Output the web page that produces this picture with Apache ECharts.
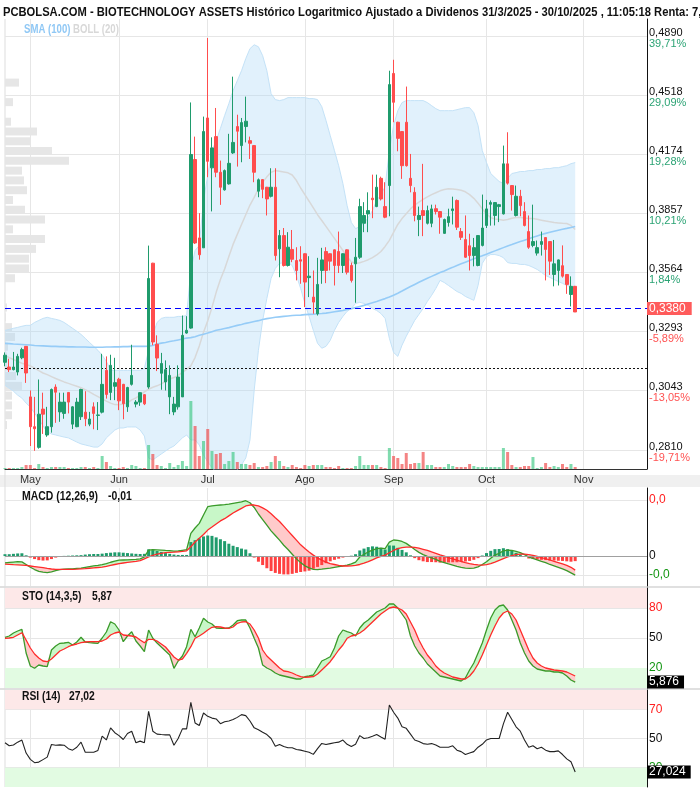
<!DOCTYPE html>
<html>
<head>
<meta charset="utf-8">
<script src="https://cdn.jsdelivr.net/npm/echarts@6/dist/echarts.min.js"></script>
<style>
  html, body { margin: 0; padding: 0; background: #fff; }
  #chart { width: 700px; height: 792px; }
</style>
</head>
<body>
<div id="chart"></div>
<script>
// candles 23/4/2025 .. 30/10/2025 (precio, escala log)
var opens = [
  .3160,.3140,.3129,.3119,.3179,.3228,.3017,.2899,.2820,.2968,
  .2867,.2899,.3057,.2957,.2951,.3035,.2909,.2899,.2938,.2956,
  .2909,.2977,.2943,.2956,.3126,.3035,.3060,.3089,.3068,.2977,
  .3068,.2988,.2996,.3026,.3057,.3608,.3237,.3114,.3078,.3017,
  .2957,.2977,.3017,.3286,.3308,.4145,.3732,.3683,.4382,.4099,
  .4274,.4075,.3980,.4012,.4182,.4332,.4223,.4332,.4251,.4223,
  .3973,.4035,.3994,.3946,.3994,.3678,.3744,.3597,.3675,.3621,
  .3625,.3654,.3539,.3448,.3372,.3573,.3665,.3654,.3673,.3665,
  .3597,.3673,.3597,.3605,.3637,.3806,.3854,.3936,.3892,.4042,
  .3892,.4003,.4651,.4357,.4303,.4357,.4042,.3967,.3825,.3871,
  .3806,.3806,.3881,.3866,.3755,.3810,.3871,.3924,.3764,.3724,
  .3693,.3645,.3597,.3695,.3795,.3904,.3846,.3892,.3854,.4121,
  .4003,.3846,.3946,.3866,.3764,.3695,.3657,.3700,.3734,.3714,
  .3554,.3573,.3596,.3554,.3460,.3498
];
var highs = [
  .3202,.3175,.3204,.3196,.3222,.3228,.3043,.3017,.3088,.3034,
  .2977,.3051,.3068,.3034,.3034,.3035,.2980,.3013,.3050,.3040,
  .2957,.2995,.2996,.3196,.3185,.3192,.3179,.3095,.3070,.3058,
  .3235,.3004,.3036,.3028,.3694,.3610,.3276,.3200,.3168,.3147,
  .3017,.3147,.3364,.3361,.4474,.4274,.3858,.4390,.4877,.4270,
  .4441,.4139,.4090,.4290,.4631,.4401,.4382,.4509,.4274,.4225,
  .4041,.4037,.3996,.4097,.4097,.3772,.3782,.3761,.3772,.3686,
  .3691,.3656,.3642,.3573,.3634,.3683,.3686,.3656,.3675,.3764,
  .3656,.3675,.3611,.3732,.3933,.3915,.3967,.4062,.4062,.4051,
  .4021,.4668,.4737,.4360,.4306,.4570,.4176,.3994,.3892,.4121,
  .3897,.3902,.3902,.3869,.3830,.3881,.3944,.3929,.3782,.3846,
  .3753,.3732,.3746,.3955,.3927,.3924,.3915,.3906,.4223,.4299,
  .4005,.4003,.3980,.3915,.3846,.3902,.3719,.3764,.3736,.3716,
  .3722,.3626,.3695,.3556,.3545,.3500
];
var lows = [
  .3143,.3119,.3126,.3105,.3173,.3074,.2825,.2807,.2815,.2871,
  .2860,.2876,.2914,.2918,.2930,.2951,.2890,.2897,.2925,.2901,
  .2901,.2889,.2886,.2951,.3010,.3004,.3004,.2964,.2928,.2957,
  .3063,.2975,.2981,.2984,.3050,.3233,.3123,.3046,.3043,.2948,
  .2944,.2966,.3017,.3283,.3305,.3702,.3625,.3683,.4048,.3867,
  .4048,.3901,.3976,.4008,.4176,.4106,.4130,.4241,.4148,.4021,
  .3941,.3936,.3846,.3940,.3621,.3541,.3592,.3592,.3613,.3526,
  .3510,.3402,.3448,.3372,.3364,.3510,.3513,.3573,.3502,.3561,
  .3561,.3554,.3516,.3422,.3629,.3761,.3761,.3832,.3889,.3924,
  .3832,.3842,.4357,.4191,.4039,.4106,.3967,.3816,.3741,.3741,
  .3800,.3786,.3851,.3753,.3753,.3789,.3800,.3772,.3722,.3634,
  .3573,.3593,.3593,.3690,.3782,.3794,.3795,.3812,.3851,.4008,
  .3871,.3841,.3842,.3790,.3678,.3686,.3645,.3645,.3526,.3552,
  .3498,.3502,.3539,.3463,.3405,.3380
];
var closes = [
  .3190,.3129,.3140,.3185,.3214,.3115,.2899,.2891,.2948,.2948,
  .2899,.3047,.3036,.2996,.2996,.2996,.2977,.2996,.3047,.2930,
  .2929,.2951,.2945,.3068,.3027,.3147,.3075,.3001,.2990,.3055,
  .3105,.2996,.3034,.2989,.3535,.3247,.3178,.3155,.3129,.3105,
  .2988,.3098,.3276,.3298,.4173,.3707,.3649,.4303,.4135,.4210,
  .4075,.3994,.4084,.4124,.4241,.4305,.4355,.4363,.4236,.4075,
  .4034,.3983,.3932,.3994,.3645,.3744,.3597,.3686,.3627,.3573,
  .3618,.3518,.3546,.3425,.3507,.3624,.3573,.3618,.3597,.3597,
  .3654,.3565,.3526,.3637,.3892,.3846,.3871,.3928,.3994,.3932,
  .3837,.4582,.4475,.4264,.4111,.4111,.4003,.3846,.3846,.3846,
  .3871,.3880,.3866,.3837,.3825,.3840,.3880,.3786,.3735,.3637,
  .3645,.3684,.3744,.3782,.3880,.3913,.3913,.3902,.4121,.4016,
  .3955,.3946,.3897,.3795,.3686,.3714,.3684,.3714,.3675,.3618,
  .3605,.3624,.3546,.3507,.3498,.3380
];
// volumen (miles)
var volumes = [
  1,1,1,1,2,4,4,1,5,2,
  1,2,2,2,2,1,1,1,2,2,
  1,2,1,13,7,3,1,1,2,1,
  4,3,1,1,24,15,4,3,1,6,
  2,4,8,3,68,43,13,28,40,18,
  15,16,5,8,17,7,5,5,4,6,
  2,2,3,7,13,8,3,2,4,2,
  1,4,3,4,4,4,2,2,1,3,
  1,1,1,3,13,4,4,4,4,2,
  1,21,13,11,5,16,5,6,6,17,
  4,4,2,2,2,5,3,2,2,2,
  5,3,2,2,2,2,2,2,21,17,
  4,2,2,3,3,12,1,2,6,2,
  3,2,5,2,5,2
];
var sma100 = [
  .3241,.3240,.3238,.3237,.3236,.3235,.3234,.3232,.3231,.3230,
  .3229,.3228,.3228,.3227,.3227,.3226,.3226,.3225,.3225,.3225,
  .3224,.3224,.3224,.3224,.3225,.3225,.3226,.3226,.3227,.3227,
  .3228,.3228,.3228,.3228,.3229,.3232,.3238,.3242,.3245,.3249,
  .3252,.3256,.3260,.3264,.3266,.3270,.3276,.3281,.3286,.3292,
  .3298,.3302,.3306,.3310,.3315,.3320,.3324,.3329,.3333,.3337,
  .3341,.3346,.3350,.3353,.3356,.3358,.3360,.3362,.3364,.3365,
  .3366,.3368,.3369,.3370,.3372,.3373,.3375,.3378,.3381,.3384,
  .3387,.3391,.3395,.3400,.3405,.3410,.3416,.3422,.3428,.3435,
  .3441,.3448,.3457,.3466,.3476,.3487,.3497,.3507,.3517,.3527,
  .3536,.3545,.3554,.3563,.3571,.3580,.3588,.3597,.3605,.3613,
  .3621,.3629,.3637,.3644,.3652,.3660,.3668,.3676,.3684,.3692,
  .3699,.3707,.3714,.3721,.3728,.3735,.3742,.3749,.3755,.3761,
  .3766,.3771,.3776,.3780,.3785,.3790
];
var bollMid = [
  .3189,.3180,.3172,.3164,.3156,.3150,.3145,.3135,.3125,.3115,
  .3108,.3100,.3092,.3085,.3078,.3072,.3066,.3060,.3054,.3046,
  .3037,.3027,.3018,.3009,.3000,.2992,.2986,.2985,.2988,.2993,
  .3005,.3013,.3024,.3037,.3048,.3056,.3062,.3070,.3080,.3090,
  .3096,.3105,.3118,.3130,.3145,.3180,.3230,.3290,.3340,.3400,
  .3470,.3530,.3580,.3640,.3700,.3750,.3800,.3850,.3900,.3940,
  .3985,.4020,.4050,.4075,.4084,.4080,.4076,.4072,.4060,.4030,
  .3990,.3955,.3920,.3885,.3850,.3820,.3790,.3760,.3730,.3700,
  .3670,.3640,.3615,.3607,.3610,.3617,.3625,.3635,.3648,.3665,
  .3690,.3720,.3760,.3800,.3830,.3855,.3880,.3900,.3915,.3930,
  .3943,.3955,.3965,.3975,.3982,.3986,.3985,.3982,.3978,.3970,
  .3955,.3935,.3910,.3880,.3855,.3835,.3828,.3825,.3822,.3825,
  .3832,.3836,.3835,.3833,.3830,.3830,.3826,.3822,.3818,.3814,
  .3810,.3808,.3806,.3805,.3795,.3774
];
var bollUp = [
  .3298,.3302,.3307,.3311,.3316,.3320,.3320,.3333,.3342,.3351,
  .3356,.3351,.3347,.3342,.3333,.3320,.3307,.3294,.3280,.3263,
  .3245,.3228,.3211,.3190,.3164,.3126,.3126,.3126,.3126,.3126,
  .3126,.3126,.3126,.3134,.3211,.3276,.3333,.3351,.3356,.3356,
  .3356,.3360,.3360,.3364,.3573,.3670,.3695,.3924,.4057,.4195,
  .4251,.4321,.4396,.4467,.4545,.4606,.4668,.4744,.4808,.4833,
  .4820,.4763,.4668,.4527,.4491,.4485,.4491,.4503,.4503,.4503,
  .4503,.4503,.4497,.4497,.4491,.4449,.4367,.4280,.4195,.4111,
  .4014,.3897,.3810,.3779,.3789,.3805,.3835,.3871,.3924,.3955,
  .3997,.4195,.4338,.4425,.4473,.4485,.4485,.4485,.4485,.4485,
  .4473,.4455,.4437,.4425,.4425,.4425,.4425,.4431,.4437,.4443,
  .4443,.4413,.4338,.4195,.4128,.4068,.4046,.4025,.4014,.4041,
  .4068,.4073,.4079,.4079,.4084,.4084,.4090,.4090,.4095,.4095,
  .4100,.4100,.4106,.4111,.4122,.4128
];
var bollLow = [
  .3064,.3052,.3040,.3024,.3012,.2992,.2976,.2952,.2929,.2902,
  .2878,.2871,.2867,.2863,.2859,.2856,.2848,.2840,.2833,.2829,
  .2825,.2821,.2821,.2833,.2856,.2871,.2886,.2894,.2894,.2898,
  .2898,.2898,.2886,.2863,.2780,.2773,.2784,.2795,.2806,.2817,
  .2825,.2840,.2856,.2867,.2848,.2848,.2829,.2791,.2766,.2744,
  .2729,.2714,.2707,.2707,.2714,.2736,.2755,.2780,.2848,.3044,
  .3211,.3342,.3442,.3535,.3583,.3607,.3611,.3611,.3597,.3549,
  .3488,.3419,.3360,.3298,.3241,.3220,.3228,.3254,.3298,.3333,
  .3360,.3383,.3396,.3419,.3424,.3419,.3410,.3396,.3387,.3373,
  .3351,.3263,.3202,.3185,.3233,.3272,.3307,.3342,.3369,.3396,
  .3428,.3456,.3488,.3526,.3516,.3502,.3488,.3474,.3465,.3451,
  .3442,.3433,.3502,.3607,.3640,.3650,.3650,.3645,.3635,.3611,
  .3607,.3607,.3602,.3602,.3597,.3588,.3578,.3564,.3549,.3540,
  .3530,.3521,.3512,.3502,.3498,.3493
];
var macd = [
  -.0036,-.0034,-.0032,-.0030,-.0031,-.0045,-.0060,-.0072,-.0082,-.0086,
  -.0089,-.0084,-.0078,-.0073,-.0070,-.0069,-.0068,-.0066,-.0064,-.0060,
  -.0056,-.0052,-.0050,-.0046,-.0040,-.0033,-.0027,-.0022,-.0021,-.0020,
  -.0019,-.0018,-.0015,-.0005,.0032,.0034,.0033,.0032,.0030,.0029,
  .0027,.0028,.0031,.0034,.0121,.0150,.0175,.0220,.0264,.0268,
  .0271,.0273,.0275,.0278,.0282,.0286,.0290,.0296,.0285,.0260,
  .0225,.0195,.0165,.0135,.0110,.0085,.0058,.0035,.0010,-.0015,
  -.0035,-.0052,-.0063,-.0071,-.0072,-.0070,-.0067,-.0064,-.0060,-.0056,
  -.0053,-.0048,-.0042,-.0032,-.0005,.0010,.0022,.0032,.0040,.0042,
  .0040,.0075,.0086,.0084,.0078,.0068,.0052,.0035,.0020,.0008,
  -.0002,-.0010,-.0018,-.0028,-.0035,-.0042,-.0048,-.0055,-.0060,-.0064,
  -.0066,-.0064,-.0058,-.0045,-.0030,-.0012,.0005,.0015,.0028,.0032,
  .0030,.0025,.0018,.0008,-.0005,-.0012,-.0020,-.0028,-.0035,-.0045,
  -.0052,-.0060,-.0068,-.0078,-.0090,-.0102
];
var macdSignal = [
  -.0043,-.0044,-.0046,-.0047,-.0048,-.0050,-.0053,-.0056,-.0059,-.0062,
  -.0066,-.0069,-.0071,-.0071,-.0071,-.0071,-.0071,-.0070,-.0068,-.0067,
  -.0065,-.0063,-.0061,-.0059,-.0055,-.0050,-.0045,-.0040,-.0037,-.0034,
  -.0031,-.0028,-.0024,-.0015,-.0004,.0004,.0010,.0014,.0018,.0020,
  .0021,.0023,.0025,.0028,.0050,.0075,.0095,.0115,.0139,.0155,
  .0172,.0188,.0200,.0215,.0230,.0243,.0255,.0268,.0273,.0273,
  .0268,.0258,.0245,.0226,.0205,.0185,.0160,.0135,.0110,.0085,
  .0060,.0040,.0022,.0005,-.0010,-.0022,-.0032,-.0040,-.0045,-.0050,
  -.0053,-.0053,-.0052,-.0050,-.0045,-.0038,-.0030,-.0020,-.0010,-.0002,
  .0005,.0018,.0030,.0040,.0045,.0048,.0048,.0046,.0042,.0036,
  .0030,.0022,.0015,.0007,.0000,-.0008,-.0015,-.0022,-.0029,-.0035,
  -.0040,-.0044,-.0047,-.0048,-.0046,-.0040,-.0032,-.0023,-.0014,-.0005,
  .0003,.0008,.0010,.0010,.0008,.0004,-.0002,-.0008,-.0014,-.0021,
  -.0028,-.0035,-.0042,-.0050,-.0060,-.0075
];
var macdHist = [
  .0010,.0010,.0012,.0014,.0015,.0004,-.0008,-.0016,-.0022,-.0024,
  -.0023,-.0016,-.0008,-.0003,.0001,.0002,.0003,.0004,.0005,.0008,
  .0010,.0011,.0011,.0013,.0016,.0018,.0020,.0020,.0018,.0016,
  .0014,.0012,.0011,.0012,.0036,.0032,.0027,.0022,.0016,.0012,
  .0008,.0006,.0006,.0006,.0075,.0085,.0095,.0105,.0110,.0108,
  .0100,.0090,.0080,.0066,.0055,.0048,.0040,.0035,.0015,-.0008,
  -.0030,-.0048,-.0065,-.0080,-.0090,-.0095,-.0098,-.0098,-.0095,-.0090,
  -.0085,-.0082,-.0078,-.0068,-.0058,-.0048,-.0038,-.0028,-.0020,-.0014,
  -.0008,-.0004,.0002,.0010,.0030,.0040,.0048,.0052,.0050,.0044,
  .0035,.0057,.0056,.0044,.0033,.0020,.0004,-.0011,-.0022,-.0028,
  -.0032,-.0032,-.0033,-.0035,-.0035,-.0034,-.0033,-.0033,-.0031,-.0029,
  -.0026,-.0020,-.0011,.0003,.0016,.0028,.0037,.0038,.0042,.0037,
  .0027,.0017,.0008,-.0002,-.0013,-.0016,-.0018,-.0020,-.0021,-.0024,
  -.0024,-.0025,-.0026,-.0028,-.0030,-.0027
];
var stoK = [
  50.7,52,55,57,58.7,35,22,19.7,23,22,
  21.3,38,42,44.7,45,45.7,43,46,50.7,46,
  45.3,45,44.7,50,56,66.3,64,58,46.3,52,
  56.3,47,42,36.3,58,49.7,45,41,37,33,
  19.7,27,32,41.3,58.7,51.3,60,69.7,66,64,
  60,59.7,59.7,60,63,67.3,68,68,60,49.7,
  40,23,20,18,15,13,12,11,10,9,
  9,11.3,12,13,20,27,29,31.3,40,52,
  58,56.3,55,52,60,65,68,72,76,78,
  80,84,84,80,74,68,52,42,35,30,
  24,20,16,12,11,10,9,8,7,10,
  18,25,35,45,58,70,78,82,83,78,
  68,58,45,35,27,22,19,18,17,17,
  16,16,15,12,8,5.876
];
var stoD = [
  49.7,50,50.7,53,55.3,48,40,34,30,27,
  26.3,29,33,37,39,41.3,43,44,45.3,46,
  46.3,46.3,46.3,47,49,53,55,56,53,52.5,
  52,51,48,45.3,48.7,48.7,47,44,41,36,
  31,28,29,34.7,41.3,49.7,52,54.7,58,60.7,
  61.3,61,60,59.7,61,64.7,66,66.3,64,58,
  50,38,32,28,24,20,17,16.3,15,13,
  11.3,10.7,11,11.3,14,18,22,26.3,32,38,
  43,49.7,52,53,55,58,62,66,70,74,
  77,80,81,80,78,74,66,58,48,40,
  33,28,22,18,15,13,11,10,9,9,
  12,17,24,33,43,53,62,70,75,77,
  74,68,58,48,38,30,25,22,20,19,
  18,17.5,17,16,14,12
];
var rsi = [
  47.1,45,45.5,47.5,48.9,40,35.7,33.4,33.8,35.5,
  37.2,45.9,45.4,45.6,45.4,43,42,44,47.5,40.6,
  40.6,40.6,41.8,51.6,49,57.3,54,52,49.3,53.4,
  55,47.1,48.2,47.1,68.6,55,53,52.7,52.5,52.5,
  45.4,50,56.6,56.6,74.8,60.7,58.9,67.5,65.2,64,
  63.4,60.2,61.5,62,63,64.5,66.4,65.7,62,57.3,
  56,54.3,52.7,50,44.7,45.9,44.5,43.7,43.7,42.5,
  42,41.3,40.6,39.1,43,46.6,45.9,46.5,47.1,47.5,
  48.9,46,44.5,46,52,50,50.5,51.5,52.7,51,
  49.5,73,68,64,58,57,53,49,48,46.5,
  46,46.5,45.5,44,44,44,45,42,41,39,
  40,41,44,46,49,50,50,50,60,68,
  63,58,55,49,44,45,43,44,42,41,
  41,41.5,39,36,34,27.024
];
// perfil de volumen por tramo de precio (de arriba abajo)
var profile = [
  0,0,0,0,0,0,14,0,8,0,
  6,32,25,47,64,17,19,22,8,20,
  40,8,40,31,24,24,10,0,0,2,
  1,7,10,3,2,2,11,17,7,7,
  7,2,0,0,0,0
];
var priceTicks = [0.2810, 0.3043, 0.3293, 0.3564, 0.3857, 0.4174, 0.4518, 0.4890];
var pctTicks = ['-19,71%', '-13,05%', '-5,89%', '1,84%', '10,21%', '19,28%', '29,09%', '39,71%'];
var startPrice = 0.315;
var monthNames = ['Ene', 'Feb', 'Mar', 'Abr', 'May', 'Jun', 'Jul', 'Ago', 'Sep', 'Oct', 'Nov', 'Dic'];
var holidays = ['2025-05-01'];

// dias habiles, con hueco a la derecha hasta 24/11
var dates = [];
for (var d = new Date(Date.UTC(2025, 3, 23)); d <= new Date(Date.UTC(2025, 10, 24)); d.setUTCDate(d.getUTCDate() + 1)) {
  var wd = d.getUTCDay();
  var s = d.toISOString().slice(0, 10);
  if (wd === 0 || wd === 6 || holidays.indexOf(s) >= 0) continue;
  dates.push(s);
}

var FONT = "'Liberation Sans', Arial, sans-serif";
var UP = '#1f9b6c', DOWN = '#ff4d4d';
var lg = Math.log;
function fmt(v, n) { return v.toFixed(n).replace('.', ','); }
function trunc(v, n) { var p = Math.pow(10, n); return fmt((v < 0 ? Math.ceil(v * p) : Math.floor(v * p)) / p, n); }
function isMonthStart(i) { return i > 0 && dates[i].slice(5, 7) !== dates[i - 1].slice(5, 7); }

// escala log: 0,2810 en y=450 y 0,4890 en y=36, rejilla de 450 px
var lnPerPx = (lg(0.4890) - lg(0.2810)) / 414;
var yMin = lg(0.2810) - 19 * lnPerPx;
var yMax = lg(0.4890) + 17 * lnPerPx;
var tickLn = priceTicks.map(lg);

var candleData = opens.map(function (o, i) { return [lg(o), lg(closes[i]), lg(lows[i]), lg(highs[i])]; });
var volData = volumes.map(function (v, i) {
  return { value: v, itemStyle: { color: closes[i] >= opens[i] ? 'rgba(60,200,130,0.65)' : 'rgba(240,80,80,0.7)' } };
});

function xCat(gi, labels) {
  return {
    type: 'category', gridIndex: gi, data: dates, boundaryGap: false,
    axisLine: { show: gi === 0, lineStyle: { color: '#333' } },
    axisTick: { show: false },
    axisLabel: {
      show: labels, interval: function (i) { return isMonthStart(i); },
      formatter: function (v) { return monthNames[+v.slice(5, 7) - 1]; },
      color: '#333', fontSize: 11, fontFamily: FONT, margin: 5
    },
    splitLine: { show: true, interval: function (i) { return isMonthStart(i); }, lineStyle: { color: '#e6e6e6' } }
  };
}

function fillBetween(key, a, b, xi, yi, upCol, dnCol) {
  var base = { type: 'line', stack: key, stackStrategy: 'all', symbol: 'none', silent: true, xAxisIndex: xi, yAxisIndex: yi, lineStyle: { opacity: 0 }, z: 2 };
  return [
    Object.assign({}, base, { data: a.map(function (v, i) { return Math.min(v, b[i]); }) }),
    Object.assign({}, base, { data: a.map(function (v, i) { return Math.max(v - b[i], 0); }), areaStyle: { color: upCol, opacity: 1 } }),
    Object.assign({}, base, { data: a.map(function (v, i) { return Math.max(b[i] - v, 0); }), areaStyle: { color: dnCol, opacity: 1 } })
  ];
}

function rightAxis(gi, min, max, custom, fmtFn, rich, pad) {
  return {
    type: 'value', gridIndex: gi, position: 'right', min: min, max: max,
    axisLine: { show: true, lineStyle: { color: '#111' } },
    axisTick: { show: false, customValues: custom },
    axisLabel: { customValues: custom, formatter: fmtFn, rich: rich, margin: 2, fontFamily: FONT, padding: pad || 0 },
    splitLine: { show: true, lineStyle: { color: '#e6e6e6' } }
  };
}

var labRich = {
  p: { color: '#111', fontSize: 11, lineHeight: 11, fontFamily: FONT },
  u: { color: '#2ba374', fontSize: 11, lineHeight: 11, fontFamily: FONT },
  n: { color: '#ff5252', fontSize: 11, lineHeight: 11, fontFamily: FONT }
};
var indRich = {
  r: { color: '#ff2020', fontSize: 12, fontFamily: FONT },
  k: { color: '#111', fontSize: 12, fontFamily: FONT },
  g: { color: '#129612', fontSize: 12, fontFamily: FONT }
};

function priceLabel(v) {
  var best = 0;
  for (var i = 1; i < tickLn.length; i++) if (Math.abs(tickLn[i] - v) < Math.abs(tickLn[best] - v)) best = i;
  var pc = pctTicks[best];
  return '{p|' + fmt(priceTicks[best], 4) + '}\n{' + (pc.charAt(0) === '-' ? 'n' : 'u') + '|' + pc + '}';
}

function valueBox(v, txt, bg) {
  return { silent: true, symbol: ['none', 'none'], data: [{ yAxis: v }],
    lineStyle: { color: 'rgba(0,0,0,0)', width: 0 },
    label: { show: true, position: 'end', distance: 0, formatter: txt, color: '#fff', backgroundColor: bg,
      padding: [1, 5, 0, 2], fontSize: 12, fontFamily: FONT } };
}

function headText(x, y, txt, fill, sx) {
  return { type: 'text', x: x, y: y, scaleX: sx, z: 10,
    style: { text: txt, font: 'bold 12px ' + FONT, fill: fill, verticalAlign: 'top' } };
}

var last = closes.length - 1;

var option = {
  animation: false,
  backgroundColor: '#fff',
  grid: [
    { left: 5, width: 642, top: 19, height: 450 },
    { left: 5, width: 642, top: 488, height: 98 },
    { left: 5, width: 642, top: 588, height: 100 },
    { left: 5, width: 642, top: 690, height: 97 },
    { left: 5, width: 642, top: 19, height: 450 }
  ],
  xAxis: [
    xCat(0, true), xCat(1, false), xCat(2, false), xCat(3, false),
    { type: 'value', gridIndex: 4, min: 0, max: 642, show: false }
  ],
  yAxis: [
    rightAxis(0, yMin, yMax, tickLn, priceLabel, labRich, [4, 0, 0, 0]),
    { type: 'value', gridIndex: 0, min: 0, max: 450, show: false },
    rightAxis(1, -0.016, 0.0364, [-0.01, 0, 0.03], function (v) {
      return v > 0 ? '{r|0,0}' : (v < 0 ? '{g|-0,0}' : '{k|0}');
    }, indRich),
    rightAxis(2, 0, 100, [20, 50, 80], function (v) {
      return v > 50 ? '{r|' + v + '}' : (v < 50 ? '{g|' + v + '}' : '{k|' + v + '}');
    }, indRich),
    rightAxis(3, 16.7, 83.3, [30, 50, 70], function (v) {
      return v > 50 ? '{r|' + v + '}' : (v < 50 ? '{g|' + v + '}' : '{k|' + v + '}');
    }, indRich),
    { type: 'category', gridIndex: 4, inverse: true, data: profile.map(function (v, i) { return i; }), show: false }
  ],
  series: [
    // perfil de volumen
    { type: 'bar', xAxisIndex: 4, yAxisIndex: 5, data: profile, barWidth: 8, itemStyle: { color: '#e6e6e6' }, silent: true, z: 1 },
    // bandas de Bollinger
    { type: 'line', xAxisIndex: 0, yAxisIndex: 0, stack: 'boll', stackStrategy: 'all', symbol: 'none', silent: true, z: 2,
      data: bollLow.map(lg), lineStyle: { color: '#c4e2f7', width: 1 } },
    { type: 'line', xAxisIndex: 0, yAxisIndex: 0, stack: 'boll', stackStrategy: 'all', symbol: 'none', silent: true, z: 2,
      data: bollUp.map(function (u, i) { return lg(u) - lg(bollLow[i]); }),
      lineStyle: { color: '#c4e2f7', width: 1 }, areaStyle: { color: 'rgba(170,214,246,0.35)', opacity: 1 } },
    { type: 'line', xAxisIndex: 0, yAxisIndex: 0, data: bollMid.map(lg), symbol: 'none', silent: true, z: 3,
      lineStyle: { color: '#d8d8d8', width: 1.5 } },
    { type: 'line', xAxisIndex: 0, yAxisIndex: 0, data: sma100.map(lg), symbol: 'none', silent: true, z: 3,
      lineStyle: { color: '#96ccf7', width: 1.6 } },
    // volumen
    { type: 'bar', xAxisIndex: 0, yAxisIndex: 1, data: volData, barWidth: 3, silent: true, z: 3 },
    // velas
    { type: 'candlestick', xAxisIndex: 0, yAxisIndex: 0, data: candleData, barWidth: 3, z: 5,
      itemStyle: { color: UP, color0: DOWN, borderColor: UP, borderColor0: DOWN, borderWidth: 1 },
      markLine: {
        silent: true, symbol: ['none', 'none'], animation: false,
        data: [
          { yAxis: lg(closes[last]), lineStyle: { color: '#0000ff', type: [6, 4], width: 1.2 },
            label: { show: true, position: 'end', distance: 0, formatter: fmt(closes[last], 4), color: '#fff',
              backgroundColor: '#ff5b5b', padding: [1, 6, 0, 2], fontSize: 12, fontFamily: FONT } },
          { yAxis: lg(startPrice), lineStyle: { color: '#111', type: [2, 2], width: 1 }, label: { show: false } }
        ]
      }
    },
    // MACD
    { type: 'bar', xAxisIndex: 1, yAxisIndex: 2, barWidth: 3, silent: true, z: 3,
      data: macdHist.map(function (v) { return { value: v, itemStyle: { color: v >= 0 ? '#1f9b6c' : '#ff4040' } }; }),
      markLine: { silent: true, symbol: ['none', 'none'], label: { show: false }, data: [{ yAxis: 0 }], lineStyle: { color: '#a0a0a0', type: 'solid', width: 1 } } }
  ].concat(fillBetween('macdfill', macd, macdSignal, 1, 2, '#c8f7c8', '#ffcaca')).concat([
    { type: 'line', xAxisIndex: 1, yAxisIndex: 2, data: macd, symbol: 'none', silent: true, z: 4, lineStyle: { color: '#3a9a2a', width: 1.3 } },
    { type: 'line', xAxisIndex: 1, yAxisIndex: 2, data: macdSignal, symbol: 'none', silent: true, z: 4, lineStyle: { color: '#ff2a2a', width: 1.3 } }
  ]).concat(fillBetween('stofill', stoK, stoD, 2, 3, '#c8f7c8', '#ffcaca')).concat([
    { type: 'line', xAxisIndex: 2, yAxisIndex: 3, data: stoK, symbol: 'none', silent: true, z: 4, lineStyle: { color: '#3a9a2a', width: 1.3 },
      markArea: { silent: true, data: [
        [{ yAxis: 80, itemStyle: { color: '#fde8e8' } }, { yAxis: 100 }],
        [{ yAxis: 0, itemStyle: { color: '#e2fbe2' } }, { yAxis: 20 }]
      ] },
      markLine: valueBox(stoK[last], fmt(stoK[last], 3), '#000') },
    { type: 'line', xAxisIndex: 2, yAxisIndex: 3, data: stoD, symbol: 'none', silent: true, z: 4, lineStyle: { color: '#ff2a2a', width: 1.3 } },
    // RSI
    { type: 'line', xAxisIndex: 3, yAxisIndex: 4, data: rsi, symbol: 'none', silent: true, z: 4, lineStyle: { color: '#222', width: 1.1 },
      markArea: { silent: true, data: [
        [{ yAxis: 70, itemStyle: { color: '#fde8e8' } }, { yAxis: 83.3 }],
        [{ yAxis: 16.7, itemStyle: { color: '#e2fbe2' } }, { yAxis: 30 }]
      ] },
      markLine: valueBox(rsi[last], fmt(rsi[last], 3), '#000') }
  ]),
  graphic: [
    { type: 'rect', left: 0, top: 475, shape: { width: 700, height: 12 }, style: { fill: '#f0f0f0' }, z: -1 },
    { type: 'rect', left: 0, top: 586, shape: { width: 700, height: 2 }, style: { fill: '#e0e0e0' } },
    { type: 'rect', left: 0, top: 688, shape: { width: 700, height: 2 }, style: { fill: '#e0e0e0' } },
    { type: 'line', shape: { x1: 5, y1: 19, x2: 5, y2: 787 }, style: { stroke: '#dddddd', lineWidth: 1 } },
    { type: 'text', x: 3, y: 6, scaleX: 0.86, z: 10,
      style: { text: 'PCBOLSA.COM - BIOTECHNOLOGY ASSETS Histórico Logaritmico Ajustado a Dividenos 31/3/2025 - 30/10/2025 , 11:05:18 Renta: 7,30%',
        font: 'bold 13px ' + FONT, fill: '#111', verticalAlign: 'top' } },
    headText(24, 24, 'SMA (100)', '#90c8f5', 0.8),
    headText(73, 24, 'BOLL (20)', '#d8d8d8', 0.8),
    headText(22, 491, 'MACD (12,26,9)', '#111', 0.87),
    headText(108, 491, trunc(macd[last], 2), '#111', 0.87),
    headText(22, 591, 'STO (14,3,5)', '#111', 0.86),
    headText(92, 591, trunc(stoK[last], 2), '#111', 0.86),
    headText(22, 691, 'RSI (14)', '#111', 0.86),
    headText(69, 691, trunc(rsi[last], 2), '#111', 0.86)
  ]
};

var chart = echarts.init(document.getElementById('chart'), null, { renderer: 'canvas' });
chart.setOption(option);
</script>
</body>
</html>
